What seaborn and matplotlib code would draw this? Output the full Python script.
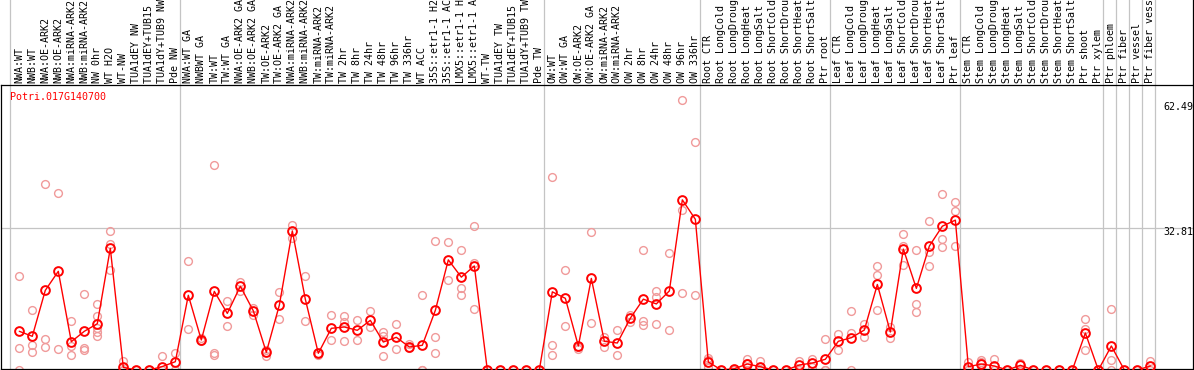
import matplotlib
matplotlib.use("Agg")
import matplotlib.pyplot as plt
import matplotlib.transforms as mtransforms
import seaborn as sns
import pandas as pd
import numpy as np

gene_id = "Potri.017G140700"

categories = [
    "NWA:WT", "NWB:WT", "NWA:OE-ARK2", "NWB:OE-ARK2", "NWA:miRNA-ARK2", "NWB:miRNA-ARK2",
    "NW 0hr", "WT H2O", "WT-NW", "TUA1dEY NW", "TUA1dEY+TUB15 NW", "TUA1dY+TUB9 NW", "Pde NW",
    "NWA:WT GA", "NWBWT GA", "TW:WT", "TW:WT GA", "NWA:OE-ARK2 GA", "NWB:OE-ARK2 GA",
    "TW:OE-ARK2", "TW:OE-ARK2 GA", "NWA:miRNA-ARK2 GA", "NWB:miRNA-ARK2 GA", "TW:miRNA-ARK2",
    "TW:miRNA-ARK2 GA", "TW 2hr", "TW 8hr", "TW 24hr", "TW 48hr", "TW 96hr", "TW 336hr",
    "WT ACC", "35S::etr1-1 H2O", "35S::etr1-1 ACC", "LMX5::etr1-1 H2O", "LMX5::etr1-1 ACC",
    "WT-TW", "TUA1dEY TW", "TUA1dEY+TUB15 TW", "TUA1dY+TUB9 TW", "Pde TW",
    "OW:WT", "OW:WT GA", "OW:OE-ARK2", "OW:OE-ARK2 GA", "OW:miRNA-ARK2", "OW:miRNA-ARK2 GA",
    "OW 2hr", "OW 8hr", "OW 24hr", "OW 48hr", "OW 96hr", "OW 336hr",
    "Root CTR", "Root LongCold", "Root LongDrought", "Root LongHeat", "Root LongSalt",
    "Root ShortCold", "Root ShortDrought", "Root ShortHeat", "Root ShortSalt", "Ptr root",
    "Leaf CTR", "Leaf LongCold", "Leaf LongDrought", "Leaf LongHeat", "Leaf LongSalt",
    "Leaf ShortCold", "Leaf ShortDrought", "Leaf ShortHeat", "Leaf ShortSalt", "Ptr leaf",
    "Stem CTR", "Stem LongCold", "Stem LongDrought", "Stem LongHeat", "Stem LongSalt",
    "Stem ShortCold", "Stem ShortDrought", "Stem ShortHeat", "Stem ShortSalt", "Ptr shoot",
    "Ptr xylem", "Ptr phloem", "Ptr fiber", "Ptr vessel", "Ptr fiber vessel",
]

group_sizes = [13, 28, 12, 10, 10, 11, 1, 1, 1, 1]

means = [
    8.96, 7.80, 18.45, 22.85, 6.55, 8.96, 10.72, 28.18, 0.6, 0, 0, 0.8, 1.92,
    17.3, 6.95, 18.2, 13.1, 19.4, 13.7, 4.1, 15.0, 32.2, 16.4, 3.87, 9.65, 9.96, 9.19,
    11.5, 6.48, 7.57, 5.33, 5.72, 13.8, 25.5, 21.5, 24.1, 0, 0, 0, 0, 0,
    18.1, 16.6, 5.56, 21.2, 6.65, 6.25, 12.0, 16.4, 15.3, 18.3, 39.4, 34.9,
    1.85, 0, 0.3, 1.39, 0.76, 0, 0, 1.16, 1.62, 2.48,
    6.65, 7.48, 9.26, 19.8, 8.8, 28.0, 18.9, 28.7, 33.3, 34.7,
    0.76, 1.39, 0.93, 0, 1.09, 0, 0, 0, 0, 8.57, 0,
    5.56, 0, 0, 0.93,
]

replicates = [
    [21.8, 5.1, 0], [13.9, 5.8, 4.1], [43.0, 7.2, 5.3], [40.9, 4.8], [11.4, 5.6, 3.4],
    [17.5, 5.2, 4.6], [15.3, 12.6, 9.65, 8.7, 7.8], [32.3, 29.2, 23.1], [2.1, 0], [0], [0],
    [3.2, 0], [3.9, 0],
    [25.2, 9.5], [7.3, 6.7], [47.4, 3.9, 3.4], [15.9, 10.3], [20.4, 18.4], [14.4, 12.8],
    [4.6, 3.2], [18.0, 11.7], [33.5, 30.6], [21.7, 11.3], [3.9, 3.5], [12.7, 6.9],
    [12.5, 11.1, 6.7], [11.6, 6.9], [13.7, 10.0], [8.7, 7.8, 3.2], [10.6, 4.8], [5.95, 5.2],
    [17.3, 0, 0], [29.8, 7.6, 3.9], [29.6, 20.8], [27.9, 19.1, 17.4], [33.3, 24.8, 14.1],
    [0], [0], [0], [0], [0],
    [44.8, 5.7, 3.4], [23.1, 10.3], [5.4, 4.9], [31.9, 10.8], [7.7, 5.3], [9.2, 3.4],
    [12.7, 11.2], [27.7, 11.3, 10.4], [18.3, 16.8, 10.65], [27.0, 9.26], [62.49, 37.0, 17.8],
    [52.7, 17.3],
    [2.7, 2.3, 0.6], [0], [0], [2.5, 1.6, 0], [2.1, 0], [0], [0], [2.15, 0], [2.5, 0.6],
    [7.2, 0, 0],
    [8.3, 4.6], [13.7, 8.6, 0], [10.6, 7.6], [24.0, 21.9, 13.9], [10.0, 7.5],
    [31.4, 28.8, 24.2], [27.9, 15.3, 13.4], [34.4, 27.3, 24.1], [40.7, 30.3, 28.5],
    [38.8, 36.7, 28.6],
    [1.85, 0], [2.3, 1.85, 0], [2.55, 0], [0], [1.7, 0], [0], [0], [0], [0],
    [11.7, 9.4, 4.6], [0],
    [14.05, 2.25, 0], [0], [0], [2.1, 0],
]

y_ticks = [0, 32.81, 62.49]
y_tick_labels = ["0", "32.81", "62.49"]

# ---------------------------------------------------------------
sns.set_style("white")
plt.rcParams["font.family"] = ["DejaVu Sans Mono", "DejaVu Sans"]

W, H = 1194, 370
fig = plt.figure(figsize=(W / 100, H / 100), dpi=100)
fig.patch.set_facecolor("white")
ax = fig.add_axes([1 / W, 1 / H, 1192 / W, 284 / H])
ax.set_facecolor("white")

pos = np.arange(len(categories))
mean_df = pd.DataFrame({"pos": pos, "value": means})
rep_df = pd.DataFrame(
    [(i, v) for i, reps in enumerate(replicates) for v in reps], columns=["pos", "value"]
)

PINK = "#f09a9a"
GRID = "#c4c4c4"

sns.lineplot(data=rep_df, x="pos", y="value", estimator=None, linestyle="none",
             marker="o", markersize=5.6, markerfacecolor="none",
             markeredgecolor=PINK, markeredgewidth=1.0, color=PINK, ax=ax, zorder=2)
sns.lineplot(data=mean_df, x="pos", y="value", color="red", linewidth=1.0,
             marker="o", markersize=6.3, markerfacecolor="none",
             markeredgecolor="red", markeredgewidth=1.4, ax=ax, zorder=3)

ax.set_xlim(-1.408, 90.28)
ax.set_ylim(0.2315, 65.99)
ax.set_xticks([])
ax.set_yticks([])
ax.set_xlabel("")
ax.set_ylabel("")
for s in ax.spines.values():
    s.set_visible(True)
    s.set_color("black")
    s.set_linewidth(0.9)

# horizontal gridline at the middle tick
ax.axhline(y_ticks[1], color=GRID, lw=0.9, zorder=1)

# group separators, extending through the label area
ext = 1 + 86 / 284
bounds = [-0.7] + list(np.cumsum(group_sizes) - 1 + 0.36)
for b in bounds:
    ax.axvline(b, ymin=0, ymax=ext, color=GRID, lw=0.9, clip_on=False, zorder=1)
ax.axvline(ax.get_xlim()[1], ymin=1, ymax=ext, color="black", lw=0.9, clip_on=False)

# category labels
trans = mtransforms.blended_transform_factory(ax.transData, ax.transAxes)
for i, c in enumerate(categories):
    ax.text(i, 1 + 2 / 284, c, transform=trans, rotation=90, ha="center", va="bottom",
            fontsize=7.2, color="black", clip_on=False)

# gene id
ax.text(-0.715, (369 - 97) / 284, gene_id, transform=trans, color="red",
        ha="left", va="center", fontsize=7.2)

# y tick labels on the right, inside
offsets = {0: 5.0, 1: -2.9, 2: -4.75}
for k, (v, lbl) in enumerate(zip(y_ticks, y_tick_labels)):
    ax.annotate(lbl, xy=(88.0, v), xytext=(0, offsets[k]), textcoords="offset points",
                ha="left", va="center", fontsize=7.2, color="black")

fig.savefig("out.png", dpi=100, facecolor="white")
